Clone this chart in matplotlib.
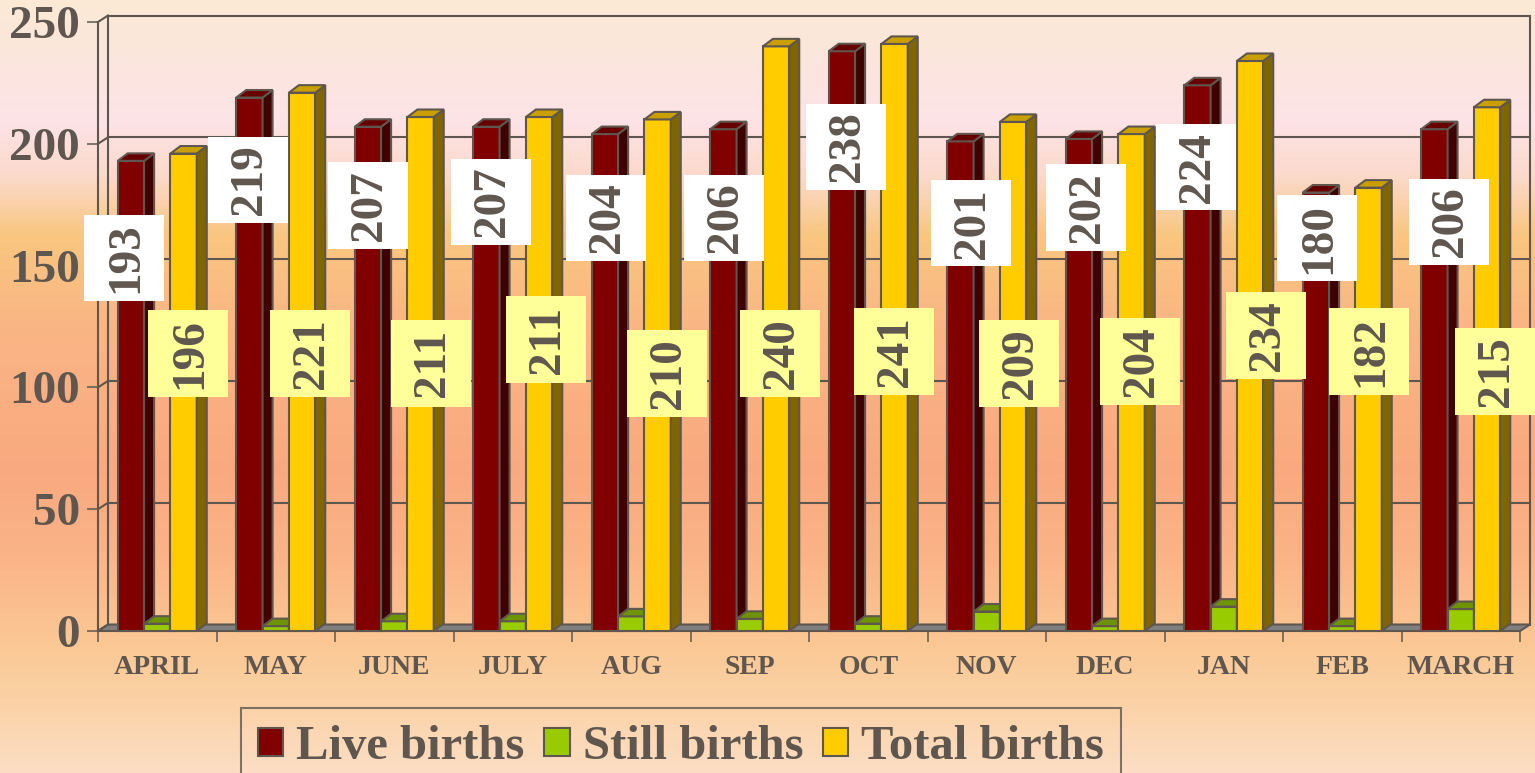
import matplotlib
matplotlib.use("Agg")
import matplotlib.pyplot as plt
import numpy as np
from matplotlib.patches import Polygon, Patch, Rectangle
from matplotlib.colors import LinearSegmentedColormap

# ---------------- data ----------------
months = ['APRIL', 'MAY', 'JUNE', 'JULY', 'AUG', 'SEP', 'OCT', 'NOV', 'DEC', 'JAN', 'FEB', 'MARCH']
live_births = [193, 219, 207, 207, 204, 206, 238, 201, 202, 224, 180, 206]
still_births = [3, 2, 4, 4, 6, 5, 3, 8, 2, 10, 2, 9]
total_births = [196, 221, 211, 211, 210, 240, 241, 209, 204, 234, 182, 215]
series_names = ['Live births', 'Still births', 'Total births']
y_ticks = [0, 50, 100, 150, 200, 250]

# label layout (vertical anchor in data units, horizontal offset in pixels)
live_label_y = [153.1, 185.2, 174.6, 176.1, 169.5, 169.5, 198.7, 167.4, 173.9, 190.4, 161.3, 168.0]
total_label_y = [114.0, 114.0, 109.9, 119.7, 105.8, 114.0, 114.8, 109.9, 110.7, 121.4, 114.7, 106.5]
live_label_dx = [-33, -27.5, -26.5, -22, -25.2, -25.5, -22, -16, -19, -27.5, -25.5, -11.5]
total_label_dx = [31, 34.2, 36.5, 33.3, 35.3, 30.5, 26, 32, 35, 41.8, 26.5, 34]

# ---------------- style ----------------
W, H = 1535, 773
TXT = '#5F574F'
EDGE = '#5F574F'
FONT = 'Liberation Serif'
front_cols = ['#800000', '#99CC00', '#FFCC00']
side_cols = ['#400000', '#4D6600', '#806600']
top_cols = ['#660000', '#6E9400', '#C9A000']
box_cols = ['white', '#FFFF99']

fig = plt.figure(figsize=(W / 100, H / 100), dpi=100)

# background gradient
bg = fig.add_axes([0, 0, 1, 1], zorder=-10)
stops = [(0, '#FBE9D5'), (60, '#FCE6DE'), (120, '#FDE3E6'), (175, '#FBDACB'),
         (235, '#F9C67F'), (330, '#F9B585'), (470, '#F9A97F'), (560, '#FAB487'),
         (650, '#FAC995'), (710, '#FBD3A8'), (773, '#FCDDC3')]
cmap = LinearSegmentedColormap.from_list('bgc', [(p / 773, c) for p, c in stops])
grad = np.linspace(0, 1, 773).reshape(-1, 1)
bg.imshow(grad, cmap=cmap, aspect='auto', extent=[0, 1, 0, 1], origin='upper')
bg.set_axis_off()

# main axes
x0, x1, y0p, y250p = 98, 1520, 631, 22
ax = fig.add_axes([x0 / W, (H - y0p) / H, (x1 - x0) / W, (y0p - y250p) / H])
ax.set_facecolor('none')
ax.set_xlim(-0.5, 11.5)
ax.set_ylim(0, 250)
for s in ax.spines.values():
    s.set_visible(False)

PXX = 12 / (x1 - x0)          # data units per pixel (x)
PXY = 250 / (y0p - y250p)     # data units per pixel (y)
DXw, DYw = 10 * PXX, 6.5 * PXY   # wall depth
DXb, DYb = 10 * PXX, 7.5 * PXY   # bar depth
lw = 1.5

# floor
ax.add_patch(Polygon([(-0.5, 0), (11.5, 0), (11.5 + DXw, DYw), (-0.5 + DXw, DYw)],
                     closed=True, facecolor='#808080', edgecolor=EDGE, lw=lw, zorder=1, clip_on=False))
# walls / grid
for v in y_ticks[1:]:
    ax.plot([-0.5 + DXw, 11.5 + DXw], [v + DYw, v + DYw], color=EDGE, lw=lw, zorder=1, clip_on=False)
for v in y_ticks:
    ax.plot([-0.5, -0.5 + DXw], [v, v + DYw], color=EDGE, lw=lw, zorder=1, clip_on=False)
ax.plot([-0.5 + DXw, -0.5 + DXw], [DYw, 250 + DYw], color=EDGE, lw=lw, zorder=1, clip_on=False)
ax.plot([11.5 + DXw, 11.5 + DXw], [DYw, 250 + DYw], color=EDGE, lw=lw, zorder=1, clip_on=False)
ax.plot([-0.5, -0.5], [0, 250], color=EDGE, lw=lw, zorder=1, clip_on=False)

# bars
x = np.arange(len(months))
bw = 2 / 9
series = [live_births, still_births, total_births]
offsets = [-bw, 0, bw]
for i in range(len(months)):
    for k, vals in enumerate(series):
        xc = x[i] + offsets[k]
        v = vals[i]
        z = 2 + (i * 3 + k) * 0.01
        ax.bar(xc, v, width=bw, color=front_cols[k], edgecolor=EDGE, lw=lw, zorder=z, clip_on=False)
        xl, xr = xc - bw / 2, xc + bw / 2
        ax.add_patch(Polygon([(xr, 0), (xr + DXb, DYb), (xr + DXb, v + DYb), (xr, v)], closed=True,
                             facecolor=side_cols[k], edgecolor=EDGE, lw=lw, zorder=z, clip_on=False))
        ax.add_patch(Polygon([(xl, v), (xr, v), (xr + DXb, v + DYb), (xl + DXb, v + DYb)], closed=True,
                             facecolor=top_cols[k], edgecolor=EDGE, lw=lw, zorder=z, clip_on=False))

# labels
BOXW, BOXH = 80 * PXX, 86.5 * PXY
lab_kw = dict(rotation=90, ha='center', va='center', rotation_mode='anchor', fontsize=34,
              fontweight='bold', family=FONT, color=TXT, zorder=10, clip_on=False)
for i in range(len(months)):
    for vals, ly, ldx, bc in ((live_births, live_label_y, live_label_dx, box_cols[0]),
                              (total_births, total_label_y, total_label_dx, box_cols[1])):
        cx = x[i] + ldx[i] * PXX
        cy = ly[i]
        ax.add_patch(Rectangle((cx - BOXW / 2, cy - BOXH / 2), BOXW, BOXH, facecolor=bc,
                               edgecolor='none', zorder=9.5, clip_on=False))
        ax.text(cx + 2 * PXX, cy, str(vals[i]), **lab_kw)

# ticks
ax.set_yticks(y_ticks)
ax.set_yticklabels([str(t) for t in y_ticks])
ax.tick_params(axis='y', length=8, width=1.1, color=EDGE, pad=5, labelsize=34, labelcolor=TXT)
ax.set_xticks(np.arange(-0.5, 12, 1))
ax.set_xticklabels([])
ax.set_xticks(x, minor=True)
ax.set_xticklabels(months, minor=True)
ax.tick_params(axis='x', which='major', length=8, width=1.1, color=EDGE, direction='out')
ax.tick_params(axis='x', which='minor', length=0, pad=17, labelsize=20, labelcolor=TXT)
for t in ax.get_yticklabels() + ax.get_xticklabels(minor=True):
    t.set_family(FONT)
    t.set_fontweight('bold')

# legend
handles = [Patch(facecolor=c, edgecolor=EDGE, lw=lw) for c in front_cols]
leg = fig.legend(handles, series_names, loc='upper left', bbox_to_anchor=(241 / W, 1 - 708 / H),
                 ncol=3, frameon=True, fancybox=False, borderpad=0.35, handlelength=0.52,
                 handleheight=0.52, handletextpad=0.27, columnspacing=0.4,
                 prop={'family': FONT, 'weight': 'bold', 'size': 35}, borderaxespad=0)
leg.get_frame().set_edgecolor(EDGE)
leg.get_frame().set_linewidth(lw)
leg.get_frame().set_facecolor('none')
for t in leg.get_texts():
    t.set_color(TXT)

fig.savefig('out.png', dpi=100)
